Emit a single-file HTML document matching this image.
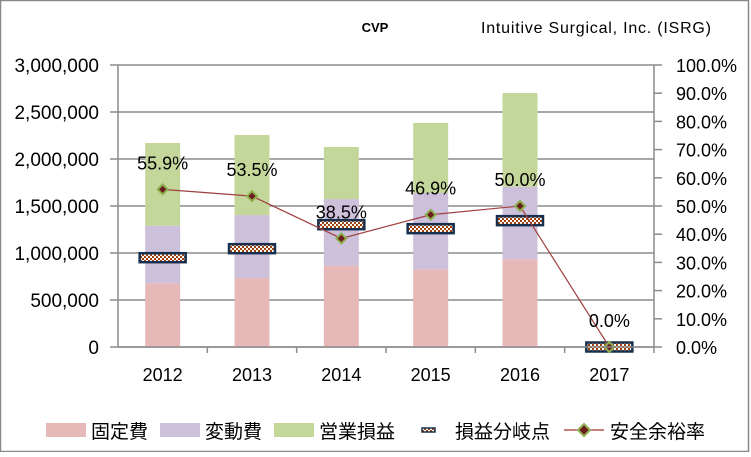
<!DOCTYPE html>
<html><head><meta charset="utf-8"><style>
html,body{margin:0;padding:0;background:#fff}
svg text{font-family:"Liberation Sans","Noto Sans CJK JP",sans-serif}
</style></head><body>
<svg id="chart" width="751" height="452" xmlns="http://www.w3.org/2000/svg">
<defs>
<pattern id="chk" width="4" height="4" patternUnits="userSpaceOnUse">
<rect width="4" height="4" fill="#fff"/><rect width="2" height="2" fill="#a0400a"/><rect x="2" y="2" width="2" height="2" fill="#a0400a"/>
</pattern>
</defs>
<rect x="0.5" y="0.5" width="748" height="451" fill="#fff" stroke="#888" stroke-width="1.5"/>
<text x="375" y="32" font-size="13" font-weight="bold" text-anchor="middle">CVP</text>
<text x="596" y="33" font-size="16" text-anchor="middle" textLength="230">Intuitive Surgical, Inc. (ISRG)</text>
<g id="grid"></g><g id="bars"></g><g id="line"></g><g id="axes"></g>
<g font-size="19">
<rect x="46" y="423" width="40" height="14" fill="#e6b8b7"/>
<text x="91" y="438">固定費</text>
<rect x="160" y="423" width="40" height="14" fill="#ccc0da"/>
<text x="205" y="438">変動費</text>
<rect x="274" y="423" width="40" height="14" fill="#c4d79b"/>
<text x="319" y="438">営業損益</text>
<rect x="422" y="428" width="13" height="4" fill="url(#chk)" stroke="#17304f" stroke-width="1.5"/>
<text x="455" y="438">損益分岐点</text>
<line x1="564" y1="430" x2="604" y2="430" stroke="#a03030" stroke-width="1.2"/>
<polygon points="584,424 590,430 584,436 578,430" fill="#6b1c1c" stroke="#8db050" stroke-width="2"/>
<text x="610" y="438">安全余裕率</text>
</g>
</svg>
<script>
const categories=["2012","2013","2014","2015","2016","2017"];
const fixedCost=[678000,734000,865000,827000,933000,0];
const variableCost=[612000,670000,709000,811000,772000,0];
const operatingProfit=[880000,851000,554000,745000,997000,0];
const breakEven=[950000,1046000,1301000,1259000,1344000,0];
const safetyMargin=[55.9,53.5,38.5,46.9,50.0,0.0];
const leftTicks=[0,500000,1000000,1500000,2000000,2500000,3000000];
const rightTicks=[0,10,20,30,40,50,60,70,80,90,100];

const NS="http://www.w3.org/2000/svg";
const L=118,R=654,T=65,B=347;
const bw=(R-L)/categories.length;
const yL=v=>B-(v/3000000)*(B-T);
const yR=v=>B-(v/100)*(B-T);
const xC=i=>L+bw*(i+0.5);
function mk(tag,attrs,parent,txt){const e=document.createElementNS(NS,tag);for(const k in attrs)e.setAttribute(k,attrs[k]);if(txt!==undefined)e.textContent=txt;document.getElementById(parent).appendChild(e);return e;}
const fmt=v=>v.toLocaleString('en-US');

leftTicks.forEach(t=>{
  const y=yL(t);
  const g=mk('line',{x1:L-8,x2:R,y1:y,y2:y,stroke:'#8c8c8c','stroke-width':1.5},'grid');
  
  
  const tx=mk('text',{x:99,y:y+7,'font-size':19,'text-anchor':'end'},'axes',fmt(t));
  
  
});
rightTicks.forEach(t=>{
  const y=yR(t);
  const tk=mk('line',{x1:R,x2:R+8,y1:y,y2:y,stroke:'#8c8c8c','stroke-width':1.5},'axes');
  
  
  const tx=mk('text',{x:676,y:y+7,'font-size':18},'axes',t.toFixed(1)+'%');
  
  
});
const ax1=mk('line',{x1:L,x2:L,y1:T,y2:B,stroke:'#8c8c8c','stroke-width':1.5},'axes');


const ax2=mk('line',{x1:R,x2:R,y1:T,y2:B,stroke:'#8c8c8c','stroke-width':1.5},'axes');


const ax3=mk('line',{x1:L,x2:R,y1:B,y2:B,stroke:'#8c8c8c','stroke-width':1.5},'axes');


categories.forEach((c,i)=>{
  const tk=mk('line',{x1:L+bw*(i+1),x2:L+bw*(i+1),y1:B,y2:B+6,stroke:'#8c8c8c','stroke-width':1.5},'axes');
  
  
  const tx=mk('text',{x:xC(i),y:B+34,'font-size':18,'text-anchor':'middle'},'axes',c);
  
  
});
const w=35;
categories.forEach((c,i)=>{
  const x=xC(i)-w/2;
  let base=0;
  [[fixedCost,'#e6b8b7','bar-fixed-cost'],[variableCost,'#ccc0da','bar-variable-cost'],[operatingProfit,'#c4d79b','bar-operating-profit']].forEach(([arr,col,nm])=>{
    const y1=yL(base),y2=yL(base+arr[i]);
    const r=mk('rect',{x:x,y:y2,width:w,height:Math.max(0,y1-y2),fill:col},'bars');
    
    
    base+=arr[i];
  });
});
categories.forEach((c,i)=>{
  const y=yL(breakEven[i]);
  const m=mk('rect',{x:xC(i)-23,y:y-4.5,width:46,height:9,fill:'url(#chk)',stroke:'#17304f','stroke-width':2.5},'line');
  
  
});
const pl=mk('polyline',{points:safetyMargin.map((v,i)=>xC(i)+','+yR(v)).join(' '),fill:'none',stroke:'#a04040','stroke-width':1.2},'line');


safetyMargin.forEach((v,i)=>{
  const x=xC(i),y=yR(v);
  const p=mk('polygon',{points:`${x},${y-5} ${x+5},${y} ${x},${y+5} ${x-5},${y}`,fill:'#6b1c1c',stroke:'#8db050','stroke-width':2},'line');
  
  
  const t=mk('text',{x:x,y:y-20,'font-size':18,'text-anchor':'middle'},'line',v.toFixed(1)+'%');
  
  
});
</script>
</body></html>
